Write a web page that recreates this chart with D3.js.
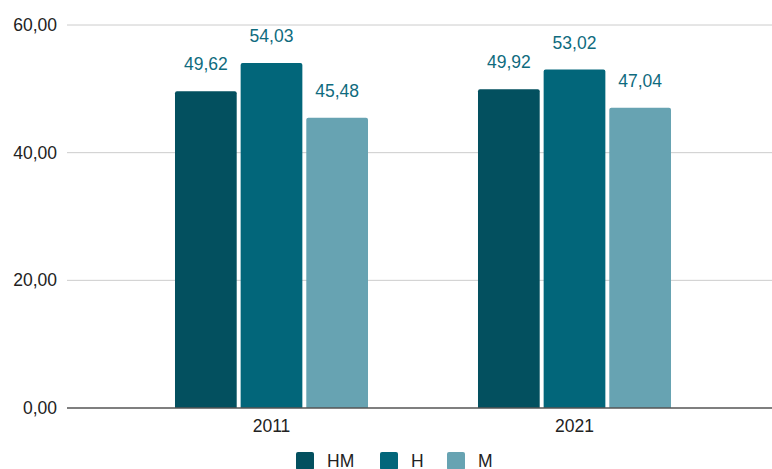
<!DOCTYPE html>
<html>
<head>
<meta charset="utf-8">
<script src="https://cdn.jsdelivr.net/npm/d3@7"></script>
<style>
  body { margin: 0; background: #fff; }
  text { font-family: "Liberation Sans", Arial, sans-serif; }
</style>
</head>
<body>
<svg id="chart" width="772" height="469"></svg>
<script>
// data
const years = ["2011", "2021"]
const series = ["HM", "H", "M"]
const hm = [49.62, 49.92]
const h = [54.03, 53.02]
const m = [45.48, 47.04]
const yTicks = [0, 20, 40, 60]
const colors = ["#03505f", "#02667a", "#67a3b2"]

const values = [hm, h, m]
const rows = years.map((yr, i) => ({year: yr, vals: series.map((s, j) => ({key: s, v: values[j][i]}))}))

const svg = d3.select("#chart")
const padL = 67, padR = 772, padT = 25, padB = 408

const y = d3.scaleLinear().domain([0, 60]).range([padB, padT])
const x0 = d3.scaleBand().domain(years).range([120, 726]).paddingInner(0.363).paddingOuter(0.1815)
const x1 = d3.scaleBand().domain(series).range([0, x0.bandwidth()]).paddingInner(0.06)
const color = d3.scaleOrdinal().domain(series).range(colors)
const fmt = v => d3.format(".2f")(v).replace(".", ",")

// gridlines
svg.append("g").selectAll("line")
  .data(yTicks.filter(t => t > 0))
  .enter().append("line")
  .attr("x1", padL).attr("x2", padR)
  .attr("y1", d => y(d)).attr("y2", d => y(d))
  .attr("stroke", "#cccccc").attr("stroke-width", 1)

// y labels
svg.append("g").selectAll("text")
  .data(yTicks)
  .enter().append("text")
  .attr("x", 57).attr("y", d => y(d) + 6)
  .attr("text-anchor", "end")
  .attr("font-size", 17.5).attr("fill", "#222")
  .text(fmt)

// bars
const grp = svg.append("g").selectAll("g")
  .data(rows)
  .enter().append("g")
  .attr("transform", d => "translate(" + x0(d.year) + ",0)")

grp.selectAll("path")
  .data(d => d.vals)
  .enter().append("path")
  .attr("fill", d => color(d.key))
  .attr("d", d => {
    const bx = x1(d.key), bw = x1.bandwidth(), by = y(d.v), r = 2
    return "M" + bx + "," + padB + "V" + (by + r) + "Q" + bx + "," + by + " " + (bx + r) + "," + by +
      "H" + (bx + bw - r) + "Q" + (bx + bw) + "," + by + " " + (bx + bw) + "," + (by + r) + "V" + padB + "Z"
  })

grp.selectAll("text")
  .data(d => d.vals)
  .enter().append("text")
  .attr("x", d => x1(d.key) + x1.bandwidth() / 2)
  .attr("y", d => y(d.v) - 21)
  .attr("text-anchor", "middle")
  .attr("font-size", 17.5).attr("fill", "#0f6b7e")
  .text(d => fmt(d.v))

// baseline
svg.append("line")
  .attr("x1", padL).attr("x2", padR)
  .attr("y1", padB).attr("y2", padB)
  .attr("stroke", "#555").attr("stroke-width", 1.5)

// x labels
svg.append("g").selectAll("text")
  .data(years)
  .enter().append("text")
  .attr("x", d => x0(d) + x0.bandwidth() / 2)
  .attr("y", 432)
  .attr("text-anchor", "middle")
  .attr("font-size", 17.5).attr("fill", "#222")
  .text(d => d)

// legend
const legX = [296, 380, 447]
const leg = svg.append("g").selectAll("g")
  .data(series)
  .enter().append("g")
  .attr("transform", (d, i) => "translate(" + legX[i] + ",452)")
leg.append("rect")
  .attr("width", 18).attr("height", 18).attr("rx", 2)
  .attr("fill", d => color(d))
leg.append("text")
  .attr("x", 31).attr("y", 15)
  .attr("font-size", 17.5).attr("fill", "#222")
  .text(d => d)
</script>
</body>
</html>
